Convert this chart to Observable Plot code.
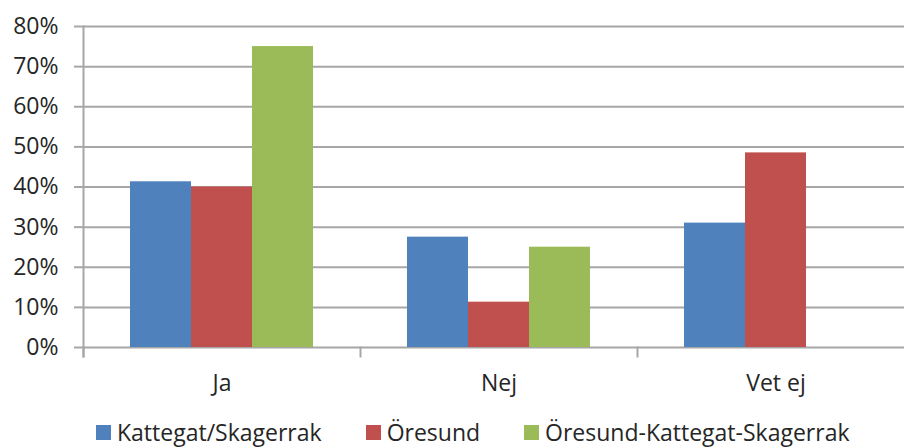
<!DOCTYPE html>
<html><head><meta charset="utf-8">
<script src="https://cdn.jsdelivr.net/npm/d3@7"></script>
<script src="https://cdn.jsdelivr.net/npm/@observablehq/plot@0.6"></script>
<style>
html,body{margin:0;padding:0;background:#fff;overflow:hidden;}
#wrap{position:relative;width:904px;height:448px;overflow:hidden;font-family:'Open Sans',sans-serif;color:#262626;background:#fff;}
#chart svg{max-width:none !important;display:block;}
#legend{position:absolute;left:96px;top:418px;display:flex;align-items:center;font-size:23px;line-height:28px;white-space:nowrap;}
.item{display:flex;align-items:center;margin-right:44px;}
.sw{width:15px;height:15px;margin-right:6px;flex:none;}
</style>
</head>
<body>
<div id="wrap"><div id="chart"></div><div id="legend"></div></div>
<script>
const categories = ["Ja", "Nej", "Vet ej"];
const seriesNames = ["Kattegat/Skagerrak", "Öresund", "Öresund-Kattegat-Skagerrak"];
const kattegatSkagerrak = [41.3, 27.5, 31.0];
const oresund = [40.0, 11.3, 48.5];
const oresundKattegatSkagerrak = [75.0, 25.0, null];
const seriesColors = ["#4F81BD", "#C0504D", "#9BBB59"];
const yTicks = [0, 10, 20, 30, 40, 50, 60, 70, 80];

const seriesValues = [kattegatSkagerrak, oresund, oresundKattegatSkagerrak];
const data = [];
categories.forEach((c, i) => seriesNames.forEach((s, j) => {
  if (seriesValues[j][i] != null) data.push({category: c, series: s, value: seriesValues[j][i]});
}));

const W = 915, H = 400, MT = 26, MB = 53;
const gridColor = "#a6a6a6";
const textColor = "#262626";

const chart = Plot.plot({
  width: W, height: H,
  marginLeft: 82, marginRight: 0, marginTop: MT, marginBottom: MB,
  style: {fontFamily: "'Open Sans', sans-serif", fontSize: "23px", color: textColor, background: "transparent", overflow: "visible"},
  fx: {domain: categories, padding: 0, axis: null},
  x: {domain: seriesNames, paddingInner: 0, paddingOuter: 0.75, axis: null},
  y: {domain: [0, 80], axis: null},
  color: {domain: seriesNames, range: seriesColors},
  marks: [
    Plot.gridY(yTicks, {stroke: gridColor, strokeOpacity: 1, strokeWidth: 2}),
    Plot.barY(data, {fx: "category", x: "series", y: "value", fill: "series"}),
    Plot.frame({anchor: "left", facet: "super", insetBottom: -9, stroke: gridColor, strokeWidth: 2}),
    Plot.frame({anchor: "left", insetTop: H - MT - MB, insetBottom: -9, stroke: gridColor, strokeWidth: 2}),
    Plot.axisY(yTicks, {tickSize: 9, tickPadding: 16, tickFormat: d => d + "%", stroke: gridColor, strokeWidth: 2, fill: textColor, fontSize: 23, label: null}),
    Plot.axisFx({anchor: "bottom", tickSize: 0, tickPadding: 27, fontSize: 23, label: null, fill: textColor})
  ]
});
document.getElementById("chart").appendChild(chart);

const legend = document.getElementById("legend");
seriesNames.forEach((s, j) => {
  const item = document.createElement("div");
  item.className = "item";
  const sw = document.createElement("span");
  sw.className = "sw";
  sw.style.background = seriesColors[j];
  const label = document.createElement("span");
  label.textContent = s;
  item.appendChild(sw);
  item.appendChild(label);
  legend.appendChild(item);
});
</script>
</body></html>
